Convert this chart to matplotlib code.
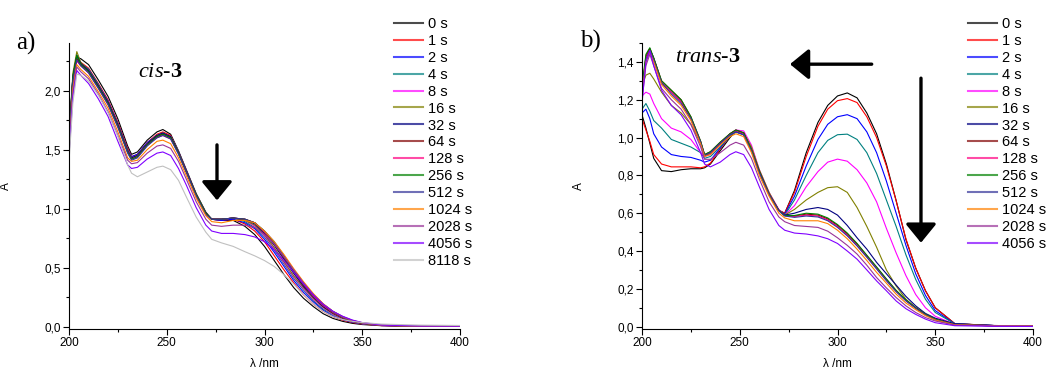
import matplotlib.pyplot as plt
from matplotlib.ticker import MultipleLocator, FuncFormatter

plt.rcParams['font.family'] = ['Liberation Sans', 'DejaVu Sans']
plt.rcParams['mathtext.fontset'] = 'custom'
plt.rcParams['mathtext.rm'] = 'Liberation Serif'
plt.rcParams['mathtext.it'] = 'Liberation Serif:italic'
plt.rcParams['mathtext.bf'] = 'Liberation Serif:bold'

# wavelength grid (nm), shared by all spectra
wl = [200, 202, 204, 206, 210, 215, 220, 225, 230, 232, 235, 240, 245, 248, 252, 256, 260, 265, 270, 273,
      278, 284, 290, 295, 300, 305, 310, 315, 320, 325, 330, 335, 340, 345, 350, 360, 380, 400]

labels = ['0 s', '1 s', '2 s', '4 s', '8 s', '16 s', '32 s', '64 s', '128 s', '256 s',
          '512 s', '1024 s', '2028 s', '4056 s', '8118 s']
colors = ['#000000', '#ff0000', '#0000ff', '#008080', '#ff00ff', '#808000', '#000080', '#800000',
          '#ff0080', '#008000', '#333399', '#ff8000', '#993399', '#8000ff', '#c0c0c0']

# a) cis-3
cis_0 = [1.55, 2.05, 2.28, 2.27, 2.22, 2.09, 1.95, 1.76, 1.53, 1.46, 1.48, 1.58, 1.65, 1.67, 1.63, 1.49, 1.33, 1.13, 0.97, 0.91,
         0.90, 0.90, 0.85, 0.78, 0.68, 0.56, 0.44, 0.33, 0.24, 0.17, 0.11, 0.07, 0.045, 0.028, 0.018, 0.008, 0.004, 0.003]
cis_1 = [1.60, 2.10, 2.25, 2.24, 2.19, 2.06, 1.92, 1.73, 1.51, 1.44, 1.46, 1.56, 1.63, 1.65, 1.62, 1.48, 1.32, 1.12, 0.96, 0.91,
         0.90, 0.91, 0.87, 0.81, 0.72, 0.60, 0.48, 0.37, 0.27, 0.19, 0.13, 0.085, 0.055, 0.035, 0.022, 0.009, 0.004, 0.003]
cis_2 = [1.62, 2.12, 2.27, 2.23, 2.18, 2.05, 1.91, 1.72, 1.50, 1.44, 1.46, 1.56, 1.62, 1.64, 1.61, 1.48, 1.32, 1.12, 0.96, 0.91,
         0.90, 0.91, 0.88, 0.83, 0.74, 0.63, 0.51, 0.39, 0.29, 0.21, 0.14, 0.09, 0.06, 0.038, 0.024, 0.01, 0.004, 0.003]
cis_4 = [1.62, 2.12, 2.28, 2.23, 2.18, 2.05, 1.90, 1.71, 1.49, 1.43, 1.45, 1.55, 1.62, 1.64, 1.61, 1.48, 1.32, 1.12, 0.96, 0.91,
         0.91, 0.92, 0.89, 0.84, 0.76, 0.65, 0.53, 0.41, 0.31, 0.22, 0.15, 0.10, 0.065, 0.04, 0.025, 0.01, 0.004, 0.003]
cis_8 = [1.60, 2.10, 2.26, 2.22, 2.17, 2.04, 1.90, 1.71, 1.49, 1.43, 1.45, 1.55, 1.62, 1.64, 1.61, 1.48, 1.32, 1.12, 0.96, 0.91,
         0.91, 0.92, 0.90, 0.85, 0.77, 0.66, 0.54, 0.42, 0.32, 0.23, 0.16, 0.105, 0.068, 0.042, 0.026, 0.01, 0.004, 0.003]
cis_16 = [1.62, 2.15, 2.33, 2.24, 2.17, 2.04, 1.90, 1.71, 1.49, 1.43, 1.45, 1.55, 1.62, 1.64, 1.61, 1.48, 1.32, 1.12, 0.96, 0.91,
          0.91, 0.92, 0.90, 0.86, 0.78, 0.67, 0.55, 0.43, 0.33, 0.24, 0.165, 0.11, 0.07, 0.044, 0.027, 0.011, 0.004, 0.003]
cis_32 = [1.60, 2.12, 2.30, 2.23, 2.17, 2.04, 1.90, 1.71, 1.49, 1.43, 1.45, 1.55, 1.62, 1.64, 1.61, 1.48, 1.32, 1.12, 0.96, 0.91,
          0.91, 0.92, 0.91, 0.87, 0.79, 0.69, 0.57, 0.45, 0.34, 0.25, 0.17, 0.115, 0.073, 0.046, 0.028, 0.011, 0.004, 0.003]
cis_64 = [1.58, 2.10, 2.27, 2.22, 2.16, 2.03, 1.89, 1.70, 1.48, 1.42, 1.44, 1.54, 1.61, 1.63, 1.60, 1.47, 1.31, 1.12, 0.96, 0.91,
          0.91, 0.92, 0.91, 0.88, 0.80, 0.70, 0.58, 0.46, 0.35, 0.26, 0.18, 0.12, 0.076, 0.048, 0.029, 0.011, 0.004, 0.003]
cis_128 = [1.57, 2.08, 2.25, 2.21, 2.15, 2.02, 1.88, 1.69, 1.48, 1.42, 1.44, 1.54, 1.60, 1.62, 1.59, 1.47, 1.31, 1.11, 0.95, 0.91,
           0.91, 0.92, 0.91, 0.88, 0.80, 0.70, 0.59, 0.47, 0.36, 0.26, 0.18, 0.12, 0.077, 0.048, 0.03, 0.011, 0.004, 0.003]
cis_256 = [1.58, 2.12, 2.30, 2.22, 2.16, 2.03, 1.89, 1.70, 1.48, 1.42, 1.44, 1.54, 1.61, 1.63, 1.60, 1.47, 1.31, 1.12, 0.96, 0.91,
           0.91, 0.92, 0.91, 0.88, 0.81, 0.71, 0.59, 0.47, 0.36, 0.27, 0.19, 0.125, 0.08, 0.05, 0.03, 0.012, 0.004, 0.003]
cis_512 = [1.56, 2.08, 2.26, 2.21, 2.15, 2.02, 1.88, 1.69, 1.47, 1.41, 1.43, 1.53, 1.60, 1.62, 1.59, 1.46, 1.31, 1.11, 0.95, 0.91,
           0.91, 0.92, 0.91, 0.88, 0.81, 0.72, 0.60, 0.48, 0.37, 0.27, 0.19, 0.13, 0.082, 0.051, 0.031, 0.012, 0.004, 0.003]
cis_1024 = [1.50, 2.02, 2.22, 2.18, 2.12, 1.99, 1.85, 1.65, 1.43, 1.40, 1.41, 1.50, 1.57, 1.58, 1.55, 1.43, 1.28, 1.09, 0.94, 0.89,
            0.88, 0.90, 0.90, 0.88, 0.81, 0.72, 0.61, 0.49, 0.38, 0.28, 0.195, 0.13, 0.085, 0.052, 0.032, 0.012, 0.004, 0.003]
cis_2028 = [1.48, 1.98, 2.20, 2.16, 2.10, 1.97, 1.82, 1.62, 1.41, 1.38, 1.39, 1.47, 1.53, 1.54, 1.51, 1.40, 1.25, 1.06, 0.91, 0.86,
            0.85, 0.86, 0.86, 0.84, 0.78, 0.70, 0.59, 0.48, 0.37, 0.27, 0.19, 0.13, 0.085, 0.053, 0.033, 0.013, 0.005, 0.004]
cis_4056 = [1.45, 1.95, 2.17, 2.13, 2.06, 1.93, 1.78, 1.57, 1.37, 1.34, 1.35, 1.42, 1.47, 1.48, 1.45, 1.34, 1.20, 1.01, 0.86, 0.81,
            0.79, 0.79, 0.78, 0.76, 0.72, 0.65, 0.56, 0.46, 0.36, 0.27, 0.19, 0.13, 0.088, 0.056, 0.035, 0.014, 0.006, 0.005]
cis_8118 = [1.40, 1.90, 2.14, 2.13, 2.08, 1.96, 1.81, 1.61, 1.37, 1.30, 1.27, 1.31, 1.35, 1.36, 1.33, 1.24, 1.10, 0.93, 0.80, 0.74,
            0.71, 0.68, 0.635, 0.60, 0.56, 0.51, 0.44, 0.36, 0.27, 0.19, 0.13, 0.085, 0.06, 0.045, 0.035, 0.022, 0.013, 0.01]

# b) trans-3
trans_0 = [1.12, 1.05, 0.97, 0.89, 0.825, 0.82, 0.83, 0.835, 0.835, 0.84, 0.86, 0.93, 1.00, 1.035, 1.02, 0.94, 0.82, 0.70, 0.615, 0.60,
           0.72, 0.92, 1.08, 1.17, 1.22, 1.236, 1.21, 1.13, 1.02, 0.86, 0.667, 0.46, 0.31, 0.19, 0.10, 0.016, 0.006, 0.005]
trans_1 = [1.10, 1.04, 0.98, 0.91, 0.86, 0.845, 0.845, 0.845, 0.84, 0.845, 0.865, 0.94, 1.01, 1.035, 1.02, 0.94, 0.82, 0.70, 0.615, 0.60,
           0.71, 0.90, 1.06, 1.15, 1.195, 1.206, 1.185, 1.11, 1.00, 0.85, 0.665, 0.465, 0.31, 0.19, 0.10, 0.016, 0.006, 0.005]
trans_2 = [1.13, 1.15, 1.10, 1.02, 0.95, 0.91, 0.90, 0.895, 0.88, 0.87, 0.88, 0.945, 1.01, 1.03, 1.015, 0.94, 0.82, 0.70, 0.615, 0.595,
           0.69, 0.85, 0.99, 1.07, 1.11, 1.121, 1.10, 1.03, 0.92, 0.77, 0.60, 0.43, 0.28, 0.165, 0.085, 0.015, 0.006, 0.005]
trans_4 = [1.15, 1.18, 1.14, 1.09, 1.05, 0.99, 0.97, 0.95, 0.92, 0.89, 0.90, 0.95, 1.01, 1.03, 1.015, 0.94, 0.82, 0.70, 0.615, 0.59,
           0.67, 0.80, 0.92, 0.985, 1.015, 1.018, 0.99, 0.92, 0.81, 0.67, 0.53, 0.38, 0.25, 0.145, 0.075, 0.015, 0.006, 0.005]
trans_8 = [1.22, 1.24, 1.23, 1.18, 1.10, 1.05, 1.03, 0.99, 0.92, 0.90, 0.91, 0.96, 1.02, 1.04, 1.035, 0.96, 0.83, 0.71, 0.62, 0.59,
           0.64, 0.74, 0.82, 0.87, 0.886, 0.875, 0.83, 0.76, 0.66, 0.52, 0.39, 0.27, 0.17, 0.10, 0.055, 0.012, 0.005, 0.005]
trans_16 = [1.27, 1.33, 1.34, 1.31, 1.24, 1.17, 1.13, 1.07, 0.97, 0.905, 0.915, 0.965, 1.02, 1.035, 1.025, 0.95, 0.83, 0.71, 0.615, 0.59,
            0.62, 0.67, 0.71, 0.735, 0.74, 0.71, 0.63, 0.53, 0.42, 0.30, 0.215, 0.145, 0.10, 0.065, 0.04, 0.012, 0.005, 0.005]
trans_32 = [1.26, 1.42, 1.47, 1.42, 1.29, 1.24, 1.19, 1.10, 0.97, 0.905, 0.92, 0.97, 1.015, 1.035, 1.02, 0.93, 0.82, 0.70, 0.615, 0.59,
            0.60, 0.62, 0.63, 0.62, 0.59, 0.535, 0.47, 0.41, 0.34, 0.28, 0.22, 0.16, 0.11, 0.07, 0.045, 0.015, 0.006, 0.005]
trans_64 = [1.25, 1.43, 1.47, 1.42, 1.30, 1.25, 1.20, 1.11, 0.98, 0.91, 0.925, 0.975, 1.02, 1.04, 1.025, 0.935, 0.82, 0.70, 0.615, 0.588,
            0.585, 0.595, 0.59, 0.57, 0.535, 0.49, 0.437, 0.375, 0.313, 0.25, 0.19, 0.14, 0.10, 0.065, 0.039, 0.01, 0.005, 0.004]
trans_128 = [1.24, 1.42, 1.46, 1.41, 1.29, 1.24, 1.19, 1.10, 0.975, 0.905, 0.92, 0.97, 1.015, 1.035, 1.02, 0.93, 0.815, 0.70, 0.615, 0.587,
             0.583, 0.59, 0.585, 0.565, 0.53, 0.485, 0.43, 0.37, 0.31, 0.247, 0.188, 0.138, 0.098, 0.064, 0.038, 0.01, 0.005, 0.004]
trans_256 = [1.27, 1.44, 1.475, 1.42, 1.30, 1.25, 1.20, 1.11, 0.98, 0.91, 0.925, 0.975, 1.02, 1.04, 1.025, 0.935, 0.82, 0.70, 0.615, 0.588,
             0.588, 0.60, 0.595, 0.575, 0.54, 0.495, 0.44, 0.378, 0.316, 0.253, 0.192, 0.142, 0.10, 0.066, 0.04, 0.01, 0.005, 0.004]
trans_512 = [1.23, 1.41, 1.46, 1.41, 1.29, 1.23, 1.18, 1.10, 0.975, 0.905, 0.92, 0.97, 1.015, 1.03, 1.015, 0.93, 0.815, 0.70, 0.612, 0.585,
             0.578, 0.585, 0.58, 0.56, 0.525, 0.48, 0.427, 0.367, 0.305, 0.243, 0.185, 0.136, 0.097, 0.063, 0.037, 0.01, 0.005, 0.004]
trans_1024 = [1.22, 1.40, 1.45, 1.40, 1.28, 1.22, 1.17, 1.09, 0.965, 0.90, 0.91, 0.96, 1.005, 1.02, 1.005, 0.92, 0.80, 0.69, 0.60, 0.575,
              0.56, 0.56, 0.56, 0.545, 0.51, 0.465, 0.41, 0.35, 0.287, 0.23, 0.172, 0.125, 0.09, 0.058, 0.035, 0.01, 0.005, 0.004]
trans_2028 = [1.20, 1.38, 1.44, 1.38, 1.26, 1.20, 1.15, 1.07, 0.95, 0.885, 0.885, 0.92, 0.96, 0.975, 0.96, 0.89, 0.78, 0.66, 0.58, 0.555,
              0.535, 0.53, 0.525, 0.505, 0.47, 0.43, 0.384, 0.325, 0.26, 0.205, 0.154, 0.11, 0.075, 0.048, 0.03, 0.008, 0.004, 0.003]
trans_4056 = [1.18, 1.40, 1.46, 1.38, 1.25, 1.17, 1.12, 1.04, 0.92, 0.86, 0.845, 0.87, 0.91, 0.925, 0.91, 0.84, 0.74, 0.62, 0.535, 0.51,
              0.495, 0.49, 0.48, 0.465, 0.44, 0.40, 0.357, 0.30, 0.242, 0.19, 0.136, 0.095, 0.065, 0.04, 0.021, 0.005, 0.002, 0.001]

cis = [cis_0, cis_1, cis_2, cis_4, cis_8, cis_16, cis_32, cis_64, cis_128, cis_256,
       cis_512, cis_1024, cis_2028, cis_4056, cis_8118]
trans = [trans_0, trans_1, trans_2, trans_4, trans_8, trans_16, trans_32, trans_64, trans_128, trans_256,
         trans_512, trans_1024, trans_2028, trans_4056]

W, H = 1047, 374
fig = plt.figure(figsize=(W / 100, H / 100), dpi=100)
ax1 = fig.add_axes([69 / W, 45 / H, 391 / W, 286 / H])
ax2 = fig.add_axes([642 / W, 45 / H, 391 / W, 286 / H])

comma = FuncFormatter(lambda v, p: f'{v:.1f}'.replace('.', ','))


def style(ax, ymax, major, minor):
    ax.set_xlim(200, 400)
    ax.set_ylim(-ymax * 0.0082, ymax)
    ax.spines['top'].set_visible(False)
    ax.spines['right'].set_visible(False)
    ax.xaxis.set_major_locator(MultipleLocator(50))
    ax.xaxis.set_minor_locator(MultipleLocator(25))
    ax.yaxis.set_major_locator(MultipleLocator(major))
    ax.yaxis.set_minor_locator(MultipleLocator(minor))
    ax.yaxis.set_major_formatter(comma)
    ax.tick_params(which='major', length=4, width=0.8, labelsize=8.5, pad=2)
    ax.tick_params(which='minor', length=2.5, width=0.8)
    ax.set_xlabel('λ /nm', fontsize=8.5)
    ax.set_ylabel('A', fontsize=8.5)
    ax.xaxis.set_label_coords(0.5, -0.10)
    ax.yaxis.set_label_coords(-0.145, 0.5)


for ax, data, top, maj, mnr, anchor in [(ax1, cis, 2.403, 0.5, 0.25, 394),
                                         (ax2, trans, 1.50, 0.2, 0.1, 968)]:
    for y, lab, col in zip(data, labels, colors):
        ax.plot(wl, y, color=col, lw=0.8, label=lab)
    style(ax, top, maj, mnr)
    leg = ax.legend(loc='upper left', bbox_to_anchor=(anchor / W, 1 - 17 / H), bbox_transform=fig.transFigure,
                    frameon=False, fontsize=10.5, handlelength=2.0, handletextpad=0.3, labelspacing=0.2,
                    borderpad=0, borderaxespad=0)
    for h in leg.legend_handles:
        h.set_linewidth(1.5)
        h.set_alpha(0.7)

arrow = dict(arrowstyle='-|>,head_length=1.15,head_width=0.94', lw=2.4, color='black',
             shrinkA=0, shrinkB=0, mutation_scale=10)
ax1.annotate('', xy=(275.7, 1.07), xytext=(275.7, 1.54), arrowprops=arrow)
ax2.annotate('', xy=(275.7, 1.388), xytext=(317.5, 1.388), arrowprops=arrow)
ax2.annotate('', xy=(342.7, 0.444), xytext=(342.7, 1.314), arrowprops=arrow)

ax1.text(246.5, 2.15, r'$\mathit{cis}$-$\mathbf{3}$', fontsize=16, ha='center', va='center',
         family='Liberation Serif')
ax2.text(233.8, 1.425, r'$\mathit{trans}$-$\mathbf{3}$', fontsize=16, ha='center', va='center',
         family='Liberation Serif')
fig.text(25.5 / W, 1 - 43 / H, 'a)', fontsize=18, family='Liberation Serif', ha='center', va='center')
fig.text(590 / W, 1 - 41 / H, 'b)', fontsize=18, family='Liberation Serif', ha='center', va='center')

fig.savefig('out.png', dpi=100)
